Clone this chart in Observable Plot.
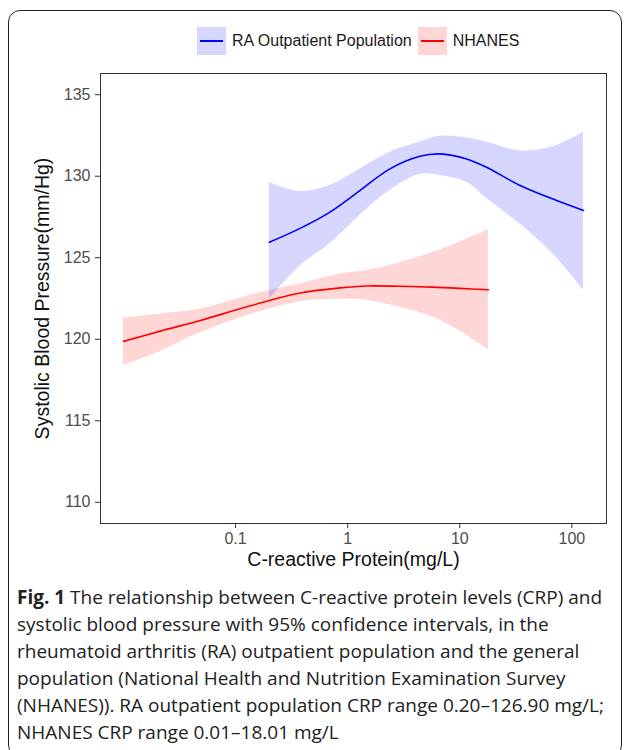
<!DOCTYPE html>
<html>
<head>
<meta charset="utf-8">
<script src="https://cdn.jsdelivr.net/npm/d3@7"></script>
<script src="https://cdn.jsdelivr.net/npm/@observablehq/plot@0.6"></script>
<style>
  html, body { margin: 0; padding: 0; background: #fff; }
  body { width: 627px; height: 750px; position: relative; overflow: hidden; }
  #frame { position: absolute; left: 8px; top: 10px; width: 612px; height: 745px;
           border: 1.5px solid #222; border-radius: 12px; }
  #legend { position: absolute; left: 197px; top: 27px; display: flex; align-items: center;
            font-family: "Liberation Sans", Arial, sans-serif; font-size: 16px; color: #1a1a1a; }
  .key { width: 29px; height: 28px; position: relative; margin-right: 6px; }
  .key::after { content: ""; position: absolute; left: 3px; right: 3px; top: 13px; height: 2px; background: var(--c); }
  .lab { margin-right: 6px; }
  #chart { position: absolute; left: 0; top: 0; }
  #chart svg, #chart svg text { font-family: "Liberation Sans", Arial, sans-serif !important; }
  #caption { position: absolute; left: 17px; top: 584px; font-family: "Open Sans", sans-serif;
             font-size: 19px; line-height: 27px; color: #222; white-space: nowrap; }
  #chart g[aria-label="x-axis tick label"] text, #chart g[aria-label="y-axis tick label"] text { fill: #4d4d4d; }
</style>
</head>
<body>
<div id="frame"></div>
<div id="legend"></div>
<div id="chart"></div>
<div id="caption"><b>Fig. 1</b> The relationship between C-reactive protein levels (CRP) and<br>systolic blood pressure with 95% confidence intervals, in the<br>rheumatoid arthritis (RA) outpatient population and the general<br>population (National Health and Nutrition Examination Survey<br>(NHANES)). RA outpatient population CRP range 0.20–126.90 mg/L;<br>NHANES CRP range 0.01–18.01 mg/L</div>
<script>
// Series names and colours
const seriesNames = ["RA Outpatient Population", "NHANES"];
const seriesLines = ["#0000ff", "#ff0000"];
const seriesBands = ["rgba(0,0,255,0.16)", "rgba(255,0,0,0.16)"];

// RA outpatient population (CRP mg/L, fitted SBP, lower CI, upper CI)
const raCRP = [0.20, 0.376, 0.695, 1.285, 2.38, 4.41, 6.64, 11.5, 17.3, 34.2, 67.7, 126.9];
const raFit = [125.95, 126.8, 127.8, 129.12, 130.45, 131.22, 131.37, 131.06, 130.55, 129.45, 128.6, 127.9];
const raLo  = [122.45, 124.5, 125.86, 127.59, 129.12, 130.1, 130.05, 129.63, 128.65, 127.08, 125.24, 123.0];
const raHi  = [129.62, 129.07, 129.43, 130.45, 131.47, 132.1, 132.45, 132.35, 132.1, 131.55, 131.8, 132.69];

// NHANES
const nhCRP = [0.01, 0.0213, 0.0484, 0.135, 0.376, 0.853, 1.475, 2.92, 5.78, 10.0, 18.01];
const nhFit = [119.87, 120.5, 121.15, 122.05, 122.84, 123.15, 123.27, 123.25, 123.2, 123.12, 123.04];
const nhLo  = [118.4, 119.25, 120.4, 121.5, 122.3, 122.45, 122.39, 121.95, 121.36, 120.5, 119.36];
const nhHi  = [121.3, 121.55, 121.85, 122.7, 123.4, 124.0, 124.22, 124.7, 125.34, 125.95, 126.71];

// Axis ticks and labels
const xTicks = [0.1, 1, 10, 100];
const yTicks = [110, 115, 120, 125, 130, 135];
const xTitle = "C-reactive Protein(mg/L)";
const yTitle = "Systolic Blood Pressure(mm/Hg)";

const ra = raCRP.map((x, i) => ({x, fit: raFit[i], lo: raLo[i], hi: raHi[i]}));
const nh = nhCRP.map((x, i) => ({x, fit: nhFit[i], lo: nhLo[i], hi: nhHi[i]}));

// Legend (HTML, above the plot)
const legend = document.getElementById("legend");
seriesNames.forEach((name, i) => {
  const k = document.createElement("div");
  k.className = "key";
  k.style.background = seriesBands[i];
  k.style.setProperty("--c", seriesLines[i]);
  legend.appendChild(k);
  const t = document.createElement("span");
  t.className = "lab";
  t.textContent = name;
  legend.appendChild(t);
});

const curve = "catmull-rom";
const chart = Plot.plot({
  width: 627,
  height: 580,
  marginTop: 73,
  marginBottom: 57,
  marginLeft: 100,
  marginRight: 21,
  style: {background: "transparent"},
  x: {type: "log", domain: [Math.pow(10, -2.205), Math.pow(10, 2.309)]},
  y: {domain: [108.7, 136.3]},
  marks: [
    Plot.areaY(nh, {x: "x", y1: "lo", y2: "hi", fill: seriesBands[1], curve}),
    Plot.areaY(ra, {x: "x", y1: "lo", y2: "hi", fill: seriesBands[0], curve}),
    Plot.line(nh, {x: "x", y: "fit", stroke: seriesLines[1], strokeWidth: 1.6, curve}),
    Plot.line(ra, {x: "x", y: "fit", stroke: seriesLines[0], strokeWidth: 1.6, curve}),
    Plot.frame({stroke: "#333", strokeWidth: 1}),
    Plot.axisX({ticks: xTicks, tickFormat: d => String(d), tickSize: 5, tickPadding: 4, fontSize: 16, label: null, stroke: "#333"}),
    Plot.axisY({ticks: yTicks, tickSize: 5, tickPadding: 5, fontSize: 16, label: null, stroke: "#333"}),
    Plot.text([xTitle], {frameAnchor: "bottom", dy: 42, fontSize: 19.5, fill: "#111"}),
    Plot.text([yTitle], {frameAnchor: "left", dx: -58, rotate: -90, textAnchor: "middle", fontSize: 19.5, fill: "#111"})
  ]
});
document.getElementById("chart").appendChild(chart);
</script>
</body>
</html>
